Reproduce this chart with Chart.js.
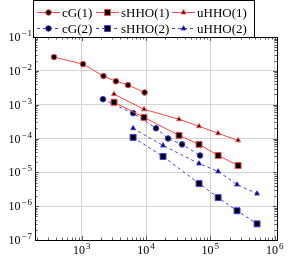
<!DOCTYPE html>
<html>
<head>
<meta charset="utf-8">
<script src="https://cdn.jsdelivr.net/npm/chart.js@4/dist/chart.umd.min.js"></script>
<style>
  html, body { margin: 0; padding: 0; background: #fff; }
  canvas { display: block; }
</style>
</head>
<body>
<canvas id="conv" width="288" height="259"></canvas>
<script>
// values (degrees of freedom vs. error)
const cg1X = [371, 1048, 2180, 3410, 5250, 9500];
const cg1Y = [2.55e-2, 1.58e-2, 7.0e-3, 4.9e-3, 3.8e-3, 2.3e-3];
const cg2X = [2140, 6300, 14300, 22000, 36300, 69200];
const cg2Y = [1.45e-3, 5.6e-4, 2.0e-4, 1.0e-4, 6.7e-5, 3.15e-5];
const shho1X = [3180, 9300, 32600, 66700, 132000, 270000];
const shho1Y = [1.18e-3, 4.2e-4, 1.24e-4, 6.7e-5, 3.15e-5, 1.59e-5];
const uhho1X = [3180, 9300, 32600, 66700, 132000, 270000];
const uhho1Y = [2.04e-3, 7.3e-4, 3.7e-4, 2.3e-4, 1.42e-4, 8.8e-5];
const shho2X = [6300, 18400, 66700, 132000, 260000, 532000];
const shho2Y = [1.08e-4, 2.95e-5, 4.66e-6, 1.79e-6, 7.3e-7, 3.0e-7];
const uhho2X = [6300, 18400, 66700, 132000, 260000, 532000];
const uhho2Y = [2.0e-4, 6.2e-5, 1.82e-5, 1.06e-5, 4.35e-6, 2.35e-6];

const xExps = [3, 4, 5, 6];
const yExps = [-7, -6, -5, -4, -3, -2, -1];

const RED = 'rgb(255,70,70)';
const BLUE = 'rgb(60,60,255)';
const SERIF = '"Liberation Serif", "DejaVu Serif", serif';

function pts(xs, ys) {
  return xs.map((x, i) => ({ x: x, y: ys[i] }));
}

function series(label, xs, ys, color, dashed, style, radius) {
  return {
    label: label,
    data: pts(xs, ys),
    showLine: true,
    borderColor: color,
    borderWidth: 1,
    borderDash: dashed ? [3, 3] : [],
    pointStyle: style,
    pointRadius: radius,
    pointBackgroundColor: '#000',
    pointBorderColor: color,
    pointBorderWidth: 1,
    tension: 0
  };
}

const datasets = [
  series('cG(1)', cg1X, cg1Y, RED, false, 'circle', 2.8),
  series('sHHO(1)', shho1X, shho1Y, RED, false, 'rect', 4.2),
  series('uHHO(1)', uhho1X, uhho1Y, RED, false, 'triangle', 2.8),
  series('cG(2)', cg2X, cg2Y, BLUE, true, 'circle', 2.8),
  series('sHHO(2)', shho2X, shho2Y, BLUE, true, 'rect', 4.2),
  series('uHHO(2)', uhho2X, uhho2Y, BLUE, true, 'triangle', 2.8)
];

function isDecade(v) {
  const l = Math.log10(v);
  return Math.abs(l - Math.round(l)) < 1e-6;
}

// marker drawn by hand for the legend
function marker(ctx, style, r, x, y) {
  ctx.beginPath();
  if (style === 'circle') {
    ctx.arc(x, y, r, 0, Math.PI * 2);
  } else if (style === 'rect') {
    const s = Math.SQRT1_2 * r;
    ctx.rect(x - s, y - s, 2 * s, 2 * s);
  } else {
    let a = 0;
    ctx.moveTo(x + Math.sin(a) * r, y - Math.cos(a) * r);
    a += 2 * Math.PI / 3;
    ctx.lineTo(x + Math.sin(a) * r, y - Math.cos(a) * r);
    a += 2 * Math.PI / 3;
    ctx.lineTo(x + Math.sin(a) * r, y - Math.cos(a) * r);
    ctx.closePath();
  }
  ctx.fill();
  ctx.stroke();
}

// "10" with a raised exponent, yb is the baseline of "10"
function pow10(ctx, e, x, yb, align) {
  const sup = e < 0 ? '\u2212' + (-e) : String(e);
  ctx.font = '12px ' + SERIF;
  const wb = ctx.measureText('10').width;
  ctx.font = '9px ' + SERIF;
  const ws = ctx.measureText(sup).width + (e < 0 ? 1 : 0);
  const total = wb + 1 + ws;
  const x0 = align === 'right' ? x - total : x - total / 2;
  ctx.fillStyle = '#000';
  ctx.textAlign = 'left';
  ctx.textBaseline = 'alphabetic';
  ctx.font = '12px ' + SERIF;
  ctx.fillText('10', x0, yb);
  ctx.font = '9px ' + SERIF;
  if (e < 0) {
    ctx.fillText('\u2212', x0 + wb + 1, yb - 5);
    ctx.fillText(String(-e), x0 + wb + 1 + ctx.measureText('\u2212').width + 1, yb - 5);
  } else {
    ctx.fillText(sup, x0 + wb + 1, yb - 5);
  }
}

const frame = {
  id: 'frame',
  afterDraw(chart) {
    const ctx = chart.ctx;
    const a = chart.chartArea;
    const xs = chart.scales.x, ys = chart.scales.y;
    ctx.save();

    // ticks inside the box, on all four sides
    ctx.strokeStyle = '#333';
    ctx.lineWidth = 0.8;
    for (let e = 2; e <= 6; e++) {
      for (let m = 1; m <= 9; m++) {
        const v = m * Math.pow(10, e);
        const px = Math.round(xs.getPixelForValue(v)) + 0.5;
        if (px < a.left || px > a.right) continue;
        const len = m === 1 ? 4 : 2.5;
        ctx.beginPath();
        ctx.moveTo(px, a.bottom); ctx.lineTo(px, a.bottom - len);
        ctx.moveTo(px, a.top); ctx.lineTo(px, a.top + len);
        ctx.stroke();
      }
    }
    for (let e = -7; e <= -1; e++) {
      for (let m = 1; m <= 9; m++) {
        const v = m * Math.pow(10, e);
        if (v > 0.1 + 1e-12) continue;
        const py = Math.round(ys.getPixelForValue(v)) + 0.5;
        if (py < a.top || py > a.bottom) continue;
        const len = m === 1 ? 4 : 2.5;
        ctx.beginPath();
        ctx.moveTo(a.left, py); ctx.lineTo(a.left + len, py);
        ctx.moveTo(a.right, py); ctx.lineTo(a.right - len, py);
        ctx.stroke();
      }
    }

    // axis box
    ctx.strokeStyle = '#000';
    ctx.lineWidth = 1;
    ctx.strokeRect(Math.round(a.left) + 0.5, Math.round(a.top) + 0.5,
      Math.round(a.right - a.left), Math.round(a.bottom - a.top));

    // tick labels
    xExps.forEach(e => pow10(ctx, e, xs.getPixelForValue(Math.pow(10, e)), a.bottom + 14, 'center'));
    yExps.forEach(e => pow10(ctx, e, a.left - 3, ys.getPixelForValue(Math.pow(10, e)) + 4, 'right'));

    // legend, two rows of three
    ctx.fillStyle = '#fff';
    ctx.fillRect(33.5, 0.5, 221, 37);
    ctx.strokeStyle = '#000';
    ctx.lineWidth = 1;
    ctx.strokeRect(33.5, 0.5, 221, 37);
    const cols = [37, 96, 172];
    const rows = [12, 28];
    chart.data.datasets.forEach((ds, i) => {
      const x0 = cols[i % 3], y = rows[Math.floor(i / 3)];
      ctx.strokeStyle = ds.borderColor;
      ctx.lineWidth = 1;
      ctx.setLineDash(ds.borderDash);
      ctx.beginPath();
      ctx.moveTo(x0, y + 0.5); ctx.lineTo(x0 + 23, y + 0.5);
      ctx.stroke();
      ctx.setLineDash([]);
      ctx.fillStyle = '#000';
      marker(ctx, ds.pointStyle, ds.pointRadius, x0 + 11.5, y + 0.5);
      ctx.fillStyle = '#000';
      ctx.font = '13px ' + SERIF;
      ctx.textAlign = 'left';
      ctx.textBaseline = 'alphabetic';
      ctx.fillText(ds.label, x0 + 25, y + 4.5);
    });
    ctx.restore();
  }
};

new Chart(document.getElementById('conv'), {
  type: 'scatter',
  data: { datasets: datasets },
  options: {
    responsive: false,
    animation: false,
    layout: { padding: { left: 35, right: 11, top: 37, bottom: 19 } },
    plugins: { legend: { display: false }, tooltip: { enabled: false } },
    scales: {
      x: {
        type: 'logarithmic',
        min: Math.pow(10, 2.274),
        max: Math.pow(10, 6.036),
        ticks: { display: false },
        border: { display: false },
        grid: {
          drawTicks: false,
          lineWidth: 1,
          color: c => isDecade(c.tick.value) ? '#d4d4d4' : 'rgba(0,0,0,0)'
        }
      },
      y: {
        type: 'logarithmic',
        min: 1e-7,
        max: 1e-1,
        ticks: { display: false },
        border: { display: false },
        grid: {
          drawTicks: false,
          lineWidth: 1,
          color: c => isDecade(c.tick.value) ? '#d4d4d4' : 'rgba(0,0,0,0)'
        }
      }
    }
  },
  plugins: [frame]
});
</script>
</body>
</html>
